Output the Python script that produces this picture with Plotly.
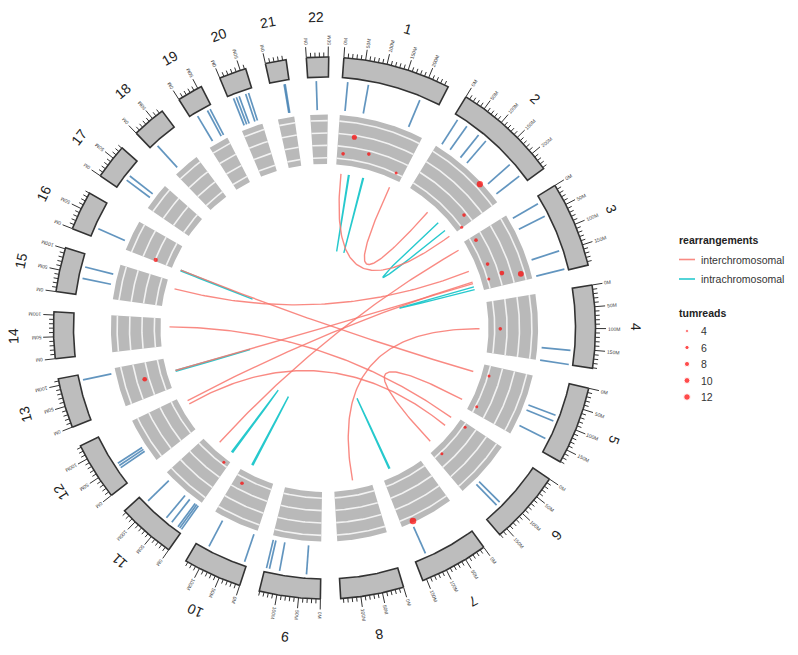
import numpy as np
import plotly.graph_objects as go

# ---------------- data ----------------
chrom_names = [str(i) for i in range(1, 23)]
chrom_len_mb = [249.25, 243.20, 198.02, 191.15, 180.92, 171.12, 159.14, 146.36,
                141.21, 135.53, 135.01, 133.85, 115.17, 107.35, 102.53, 90.35,
                81.20, 78.08, 59.13, 63.03, 48.13, 51.30]

# copy-number / segment calls (blue radial ticks)
seg_chrom = [1, 1, 1,
             2, 2, 2, 2, 2, 2,
             3, 3, 3, 3,
             4, 4,
             5, 5, 5,
             6, 6,
             7,
             9, 9, 9, 9,
             10, 10,
             11, 11, 11, 11, 11, 11,
             12, 12, 12,
             13,
             15, 15,
             16,
             17, 17,
             18,
             19, 19, 19,
             20, 20, 20, 20, 20,
             21, 21,
             22]
seg_pos_mb = [14.1, 66.5, 201.1,
              12.3, 40.4, 77.2, 100.9, 185.3, 222.6,
              16.6, 52.3, 146.4, 194.2,
              154.8, 190.5,
              84.9, 100.0, 148.5,
              118.4, 129.2,
              128.3,
              35.8, 103.9, 129.8, 137.4,
              7.0, 104.3,
              3.4, 8.8, 14.2, 33.6, 50.9, 113.6,
              40.2, 46.7, 53.2,
              100.8,
              41.7, 71.0,
              23.6,
              28.3, 41.3,
              16.3,
              17.2, 45.5, 53.1,
              12.1, 19.7, 27.2, 44.5, 52.1,
              34.5, 37.0,
              21.0]

# breakpoints shown in the grey track
pt_chrom = [1, 1, 1, 1, 2, 2, 2, 3, 3, 3, 3, 3, 4, 5, 5, 6, 6, 7, 10, 11, 13, 16]
pt_pos_mb = [51.9, 21.6, 110.3, 223.8, 170.2, 211.5, 240.4, 17.7, 111.8, 163.7, 157.2,
             176.6, 101.8, 37.2, 157.2, 14.1, 141.6, 122.9, 105.4, 19.6, 59.9, 4.9]
pt_score = [7.7, 4.8, 5.5, 4.1, 10.7, 5.5, 4.0, 4.8, 4.8, 4.2, 6.5,
            9.4, 4.9, 4.2, 4.2, 4.3, 4.3, 10.8, 4.9, 3.6, 6.7, 5.9]
pt_tumreads = [8, 5, 5, 4, 11, 5, 4, 5, 5, 4, 7, 10, 5, 4, 4, 4, 4, 12, 5, 4, 7, 6]

# rearrangement links
link_chrom_a = [1, 1, 2, 3, 7, 10, 11, 13, 16,
                1, 1, 16, 15, 14, 13, 12, 12, 11, 8, 5]
link_pos_a = [51.9, 110.3, 170.2, 176.6, 122.9, 105.4, 19.6, 59.9, 4.9,
              223.8, 21.6, 4.9, 74.6, 75.0, 59.9, 110.0, 95.9, 81.0, 70.8, 157.2]
link_chrom_b = [1, 1, 2, 3, 7, 10, 11, 13, 16,
                2, 2, 5, 3, 6, 3, 3, 6, 3, 4, 6]
link_pos_b = [55.0, 113.5, 211.5, 188.0, 119.0, 100.5, 14.5, 56.0, 1.5,
              110.7, 240.4, 37.2, 111.8, 14.1, 163.7, 157.2, 54.5, 17.7, 101.8, 141.6]
link_kind = ["intrachromosomal"] * 9 + ["interchromosomal"] * 11

legend_tumreads = [4, 6, 8, 10, 12]
track_grid_scores = [4, 6, 8, 10]

# ---------------- layout constants ----------------
W, H = 798, 655
CX, CY = 324.5, 328.0
START_DEG, GAP_DEG, DEG_PER_MB = 4.1, 4.3, 0.0925
R_IDEO_IN, R_IDEO_OUT = 251.0, 271.0
R_MINOR, R_MAJOR, R_TLAB = 275.5, 281.5, 283.5
R_NAME = 311.0
R_SEG_IN, R_SEG_OUT = 218.0, 247.0
R_TRK_IN, R_TRK_OUT = 164.0, 213.6
SCORE_MIN, SCORE_MAX = 3.0, 11.0
R_LINK = 155.0

COL_INTER = "rgba(248,118,109,0.85)"
COL_INTRA = "rgba(0,191,196,0.85)"
FONT = "Liberation Sans"

cum = np.concatenate([[0.0], np.cumsum(chrom_len_mb)[:-1]])


def ang(chrom, pos):
    i = chrom - 1
    return START_DEG + i * GAP_DEG + (cum[i] + pos) * DEG_PER_MB


def xy(r, th):
    t = np.radians(th)
    return r * np.sin(t), r * np.cos(t)


def arc(r, a0, a1, n=None):
    if n is None:
        n = max(4, int(abs(a1 - a0) * 3))
    th = np.linspace(a0, a1, n)
    return xy(r, th)


def score_r(s):
    return R_TRK_IN + (s - SCORE_MIN) / (SCORE_MAX - SCORE_MIN) * (R_TRK_OUT - R_TRK_IN)


def size_px(v):
    v = max(v, 4)
    return float(np.sqrt(3.0 ** 2 + (v - 4) / 8.0 * (6.6 ** 2 - 3.0 ** 2)))


def norm_angle(a):
    return (a + 180) % 360 - 180


fig = go.Figure()
annotations = []

# ---- grey track blocks ----
bx, by = [], []
gx, gy = [], []
for ci in range(1, 23):
    a0 = ang(ci, 0)
    a1 = ang(ci, chrom_len_mb[ci - 1])
    ox, oy = arc(R_TRK_OUT, a0, a1)
    ix, iy = arc(R_TRK_IN, a1, a0)
    bx += list(ox) + list(ix) + [ox[0], None]
    by += list(oy) + list(iy) + [oy[0], None]
    for s in track_grid_scores:
        x, y = arc(score_r(s), a0, a1)
        gx += list(x) + [None]
        gy += list(y) + [None]
fig.add_trace(go.Scatter(x=bx, y=by, mode="lines", fill="toself", fillcolor="#B9B9B9",
                         line=dict(width=0), hoverinfo="skip"))
fig.add_trace(go.Scatter(x=gx, y=gy, mode="lines", line=dict(color="#F2F2F2", width=1.6),
                         hoverinfo="skip"))

# ---- ideograms ----
ix_, iy_ = [], []
tx, ty = [], []
for ci in range(1, 23):
    L = chrom_len_mb[ci - 1]
    a0, a1 = ang(ci, 0), ang(ci, L)
    ox, oy = arc(R_IDEO_OUT, a0, a1)
    inx, iny = arc(R_IDEO_IN, a1, a0)
    ix_ += list(ox) + list(inx) + [ox[0], None]
    iy_ += list(oy) + list(iny) + [oy[0], None]
    for m in range(0, int(L) + 1, 10):
        a = ang(ci, m)
        rr = R_MAJOR if m % 50 == 0 else R_MINOR
        x0, y0 = xy(R_IDEO_OUT, a)
        x1, y1 = xy(rr, a)
        tx += [x0, x1, None]
        ty += [y0, y1, None]
        if m % 50 == 0:
            label = f"{m}M"
            w = 5.0 * (0.56 * (len(label) - 1) + 0.83)
            lx, ly = xy(R_TLAB + w / 2.0, a)
            annotations.append(dict(x=lx, y=ly, text=label, showarrow=False,
                                    textangle=norm_angle(a - 90),
                                    font=dict(size=5, color="#444444", family=FONT),
                                    xanchor="center", yanchor="middle"))
    am = ang(ci, L / 2.0)
    nx, ny = xy(R_NAME, am)
    annotations.append(dict(x=nx, y=ny, text=chrom_names[ci - 1], showarrow=False,
                            textangle=norm_angle(am),
                            font=dict(size=14, color="#222222", family=FONT),
                            xanchor="center", yanchor="middle"))

fig.add_trace(go.Scatter(x=tx, y=ty, mode="lines", line=dict(color="#333333", width=1.0),
                         hoverinfo="skip"))
fig.add_trace(go.Scatter(x=ix_, y=iy_, mode="lines", fill="toself", fillcolor="#BDBDBD",
                         line=dict(color="#333333", width=1.6), hoverinfo="skip"))

# ---- blue segments ----
sx, sy = [], []
for c, p in zip(seg_chrom, seg_pos_mb):
    a = ang(c, p)
    x0, y0 = xy(R_SEG_IN, a)
    x1, y1 = xy(R_SEG_OUT, a)
    sx += [x0, x1, None]
    sy += [y0, y1, None]
fig.add_trace(go.Scatter(x=sx, y=sy, mode="lines",
                         line=dict(color="rgba(70,130,180,0.85)", width=1.7), hoverinfo="skip"))

# ---- links (quadratic Bezier through the centre) ----
t = np.linspace(0, 1, 90)
link_xy = {"intrachromosomal": ([], []), "interchromosomal": ([], [])}
for ca, pa, cb, pb, k in zip(link_chrom_a, link_pos_a, link_chrom_b, link_pos_b, link_kind):
    x1, y1 = xy(R_LINK, ang(ca, pa))
    x2, y2 = xy(R_LINK, ang(cb, pb))
    bxs = (1 - t) ** 2 * x1 + t ** 2 * x2
    bys = (1 - t) ** 2 * y1 + t ** 2 * y2
    link_xy[k][0].extend(list(bxs) + [None])
    link_xy[k][1].extend(list(bys) + [None])
fig.add_trace(go.Scatter(x=link_xy["intrachromosomal"][0], y=link_xy["intrachromosomal"][1],
                         mode="lines", line=dict(color=COL_INTRA, width=1.4), hoverinfo="skip"))
fig.add_trace(go.Scatter(x=link_xy["interchromosomal"][0], y=link_xy["interchromosomal"][1],
                         mode="lines", line=dict(color=COL_INTER, width=1.4), hoverinfo="skip"))

# ---- track points ----
px_, py_ = [], []
for c, p, s in zip(pt_chrom, pt_pos_mb, pt_score):
    x, y = xy(score_r(s), ang(c, p))
    px_.append(x)
    py_.append(y)
fig.add_trace(go.Scatter(x=px_, y=py_, mode="markers",
                         marker=dict(color="#FF0000", size=[size_px(v) for v in pt_tumreads],
                                     line=dict(width=0)),
                         hoverinfo="skip"))


# ---- legend (drawn in plot coordinates) ----
def P(xp, yp):
    return xp - CX, CY - yp


LEG_X = 678
lf = dict(size=10.5, color="#222222", family=FONT)
x, y = P(LEG_X - 1, 240)
annotations.append(dict(x=x, y=y, text="<b>rearrangements</b>", showarrow=False,
                        xanchor="left", yanchor="middle", font=lf))
for k, (kind, col) in enumerate([("interchromosomal", COL_INTER), ("intrachromosomal", COL_INTRA)]):
    yy = 259.5 + 19.5 * k
    xa, ya = P(LEG_X + 1, yy)
    xb, yb = P(LEG_X + 17, yy)
    fig.add_trace(go.Scatter(x=[xa, xb], y=[ya, yb], mode="lines",
                             line=dict(color=col, width=1.6), hoverinfo="skip"))
    xt, yt = P(LEG_X + 21, yy)
    annotations.append(dict(x=xt, y=yt, text=kind, showarrow=False, xanchor="left",
                            yanchor="middle", font=dict(size=10.5, color="#333333", family=FONT)))
x, y = P(LEG_X - 1, 313)
annotations.append(dict(x=x, y=y, text="<b>tumreads</b>", showarrow=False,
                        xanchor="left", yanchor="middle", font=lf))
lx, ly = [], []
for k, v in enumerate(legend_tumreads):
    yy = 331 + 16.5 * k
    a, b = P(LEG_X + 9, yy)
    lx.append(a)
    ly.append(b)
    xt, yt = P(LEG_X + 21, yy)
    annotations.append(dict(x=xt, y=yt, text=str(v), showarrow=False, xanchor="left",
                            yanchor="middle", font=dict(size=10.5, color="#333333", family=FONT)))
fig.add_trace(go.Scatter(x=lx, y=ly, mode="markers",
                         marker=dict(color="#FF0000", size=[size_px(v) for v in legend_tumreads]),
                         hoverinfo="skip"))

fig.update_layout(
    width=W, height=H, margin=dict(l=0, r=0, t=0, b=0),
    paper_bgcolor="white", plot_bgcolor="white", showlegend=False,
    xaxis=dict(range=[-CX, W - CX], visible=False, fixedrange=True),
    yaxis=dict(range=[-(H - CY), CY], visible=False, fixedrange=True),
    annotations=annotations,
)

fig.write_html("out.html", config={"displayModeBar": False},
               post_script="document.body.style.margin='0px';document.body.style.overflow='hidden';")
